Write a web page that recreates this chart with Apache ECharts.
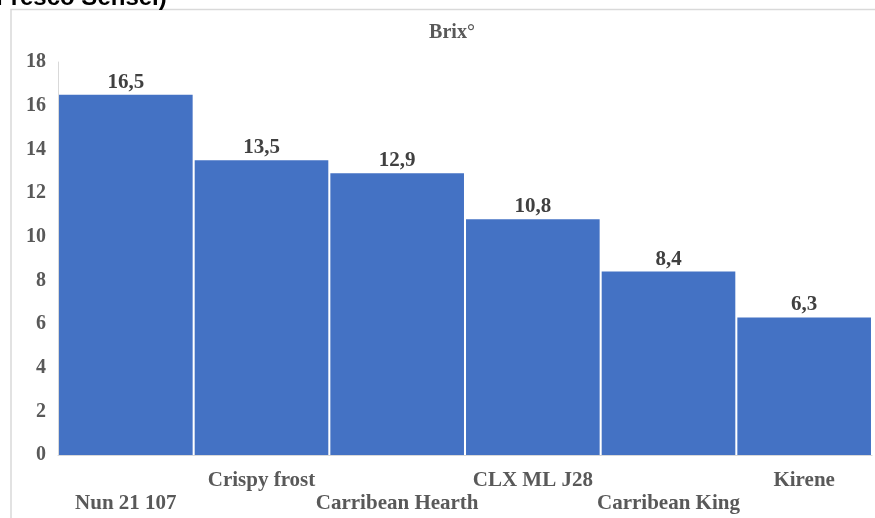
<!DOCTYPE html>
<html>
<head>
<meta charset="utf-8">
<script src="https://cdn.jsdelivr.net/npm/echarts@6/dist/echarts.min.js"></script>
<style>html,body{margin:0;padding:0;background:#fff;}#c{width:875px;height:518px;}</style>
</head>
<body>
<div id="c"></div>
<script>
const categories = ['Nun 21 107', 'Crispy frost', 'Carribean Hearth', 'CLX ML J28', 'Carribean King', 'Kirene'];
const brix = [16.5, 13.5, 12.9, 10.8, 8.4, 6.3];
const yTicks = { min: 0, max: 18, interval: 2 };

const chart = echarts.init(document.getElementById('c'), null, { renderer: 'canvas' });
const serif = '"Liberation Serif", "DejaVu Serif", serif';
chart.setOption({
  backgroundColor: '#ffffff',
  animation: false,
  title: {
    text: 'Brix°', left: 447, top: 18, textAlign: 'center',
    textStyle: { fontFamily: serif, fontWeight: 'bold', fontSize: 20, color: '#595959' }
  },
  graphic: [
    { type: 'rect', shape: { x: 11, y: 9.5, width: 900, height: 600 }, style: { fill: 'none', stroke: '#d9d9d9', lineWidth: 1.5 }, z: -1 },
    { type: 'text', left: -4, top: -14, style: { text: 'Fresco Sensei)', font: 'bold 24px "Liberation Sans", Arial, sans-serif', fill: '#000' } }
  ],
  grid: { left: 58, right: 3, top: 62, bottom: 63 },
  xAxis: {
    type: 'category', data: categories,
    axisLine: { show: true, lineStyle: { color: '#d9d9d9' } },
    axisTick: { show: false },
    axisLabel: {
      interval: 0, margin: 14, lineHeight: 23,
      fontFamily: serif, fontWeight: 'bold', fontSize: 21, color: '#595959',
      formatter: (v, i) => (i % 2 === 0 ? '\n' + v : v)
    }
  },
  yAxis: {
    type: 'value', min: yTicks.min, max: yTicks.max, interval: yTicks.interval,
    splitLine: { show: false },
    axisLine: { show: true, lineStyle: { color: '#d9d9d9' } },
    axisTick: { show: false },
    axisLabel: { margin: 12, fontFamily: serif, fontWeight: 'bold', fontSize: 20, color: '#595959' }
  },
  series: [{
    type: 'bar', data: brix, barCategoryGap: '1.5%',
    itemStyle: { color: '#4472C4' },
    label: {
      show: true, position: 'top', distance: 2,
      fontFamily: serif, fontWeight: 'bold', fontSize: 21, color: '#404040',
      formatter: p => String(p.value).replace('.', ',')
    }
  }]
});
</script>
</body>
</html>
